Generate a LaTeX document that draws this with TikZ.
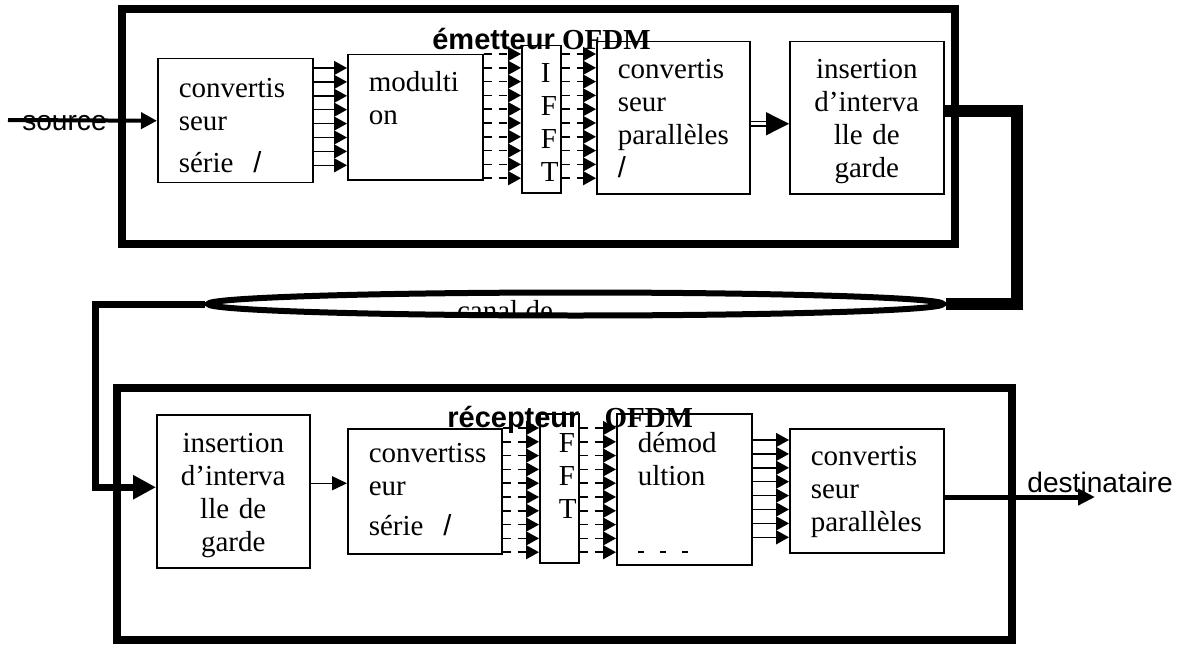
\documentclass[tikz,border=0pt]{standalone}
\usepackage{fontspec}
\setmainfont{Liberation Serif}
\setsansfont{Liberation Sans}
\usetikzlibrary{arrows.meta,shapes.geometric}
\newcommand{\boxfont}{\fontsize{16.5}{18.8}\selectfont}
\newcommand{\lblfont}{\sffamily\fontsize{16}{19}\selectfont}
\newcommand{\ttlfont}{\bfseries\fontsize{16.5}{19}\selectfont}

\begin{document}
\begin{tikzpicture}[
  outerbox/.style={draw, line width=0.16cm},
  blk/.style={draw, line width=0.03cm, anchor=north west, inner xsep=0.42cm, inner ysep=0pt, align=left, font=\boxfont, execute at begin node={\hyphenpenalty=10000\exhyphenpenalty=10000}},
  busline/.style={line width=0.03cm, -{Triangle[length=0.26cm,width=0.28cm]}},
  busdash/.style={busline, dash pattern=on 0.16cm off 0.14cm},
  dbl/.style={double, double distance=0.07cm, line width=0.025cm, -{Triangle[length=0.46cm,width=0.46cm]}},
  feed/.style={line width=0.08cm, -{Triangle[length=0.32cm,width=0.32cm]}},
  chan/.style={line width=0.24cm},
  inarrow/.style={line width=0.14cm, -{Triangle[length=0.46cm,width=0.46cm]}},
  outarrow/.style={line width=0.1cm, -{Triangle[length=0.34cm,width=0.32cm]}},
  thinarrow/.style={line width=0.03cm, -{Triangle[length=0.3cm,width=0.28cm]}}]
\useasboundingbox (0,0) rectangle (23.74,-12.88);

% titles sit under the box outlines
\node[anchor=base west, inner sep=0pt] (tx) at (8.64,-1.0) {\ttlfont{\sffamily émetteur} OFDM};
\node[anchor=base west, inner sep=0pt] (rx) at (8.94,-8.54) {\ttlfont{\sffamily récepteur}\hspace{0.5cm}OFDM};

\draw[outerbox] (2.44,-0.18) rectangle (19.10,-4.88);
\draw[outerbox] (2.34,-7.76) rectangle (20.24,-12.80);

% emitter chain
\node[blk, text width=2.26cm, text height=0.78cm, text depth=1.70cm] (b1) at (3.14,-1.16) {convertis\\seur\\[0.18cm]série\hspace{0.4cm}{\sffamily /}};
\node[blk, text width=1.86cm, text height=0.74cm, text depth=1.76cm] (b2) at (6.94,-1.08) {modulti\\on};
\node[blk, inner xsep=0.38cm, text width=0.02cm, text height=0.74cm, text depth=2.20cm] (ifft) at (10.42,-0.90) {I\\F\\F\\T};
\node[blk, text width=2.22cm, text height=0.74cm, text depth=2.30cm] (b3) at (11.92,-0.82) {convertis\\seur\\parallèles\\{\sffamily /}};
\node[blk, align=center, text width=2.24cm, text height=0.74cm, text depth=2.30cm] (b4) at (15.78,-0.82) {insertion\\d’interva\\lle de\\garde};

% receiver chain
\node[blk, align=center, text width=2.22cm, text height=0.76cm, text depth=2.30cm] (b5) at (3.12,-8.28) {insertion\\d’interva\\lle de\\garde};
\node[blk, text width=2.24cm, text height=0.68cm, text depth=1.82cm] (b6) at (6.94,-8.56) {convertiss\\eur\\[0.14cm]série\hspace{0.4cm}{\sffamily /}};
\node[blk, inner xsep=0.38cm, text width=0.02cm, text height=0.78cm, text depth=2.20cm] (fft) at (10.78,-8.26) {F\\F\\T};
\node[blk, text width=1.86cm, text height=0.78cm, text depth=2.24cm] (b7) at (12.32,-8.26) {démod\\ultion};
\node[blk, text width=2.24cm, text height=0.74cm, text depth=1.74cm] (b8) at (15.78,-8.56) {convertis\\seur\\parallèles};

\node[draw, ellipse, line width=0.12cm, minimum width=14.7cm, minimum height=0.46cm, inner sep=0pt,
  path picture={\node[anchor=base, font=\boxfont] (canaltxt) at ([xshift=-1.41cm,yshift=-0.32cm]path picture bounding box.center) {canal de};}] (canal) at (11.51,-6.08) {};

\node[anchor=base, font=\lblfont, inner sep=0pt] (src) at (1.29,-2.62) {source};
\node[anchor=base west, font=\lblfont, inner sep=0pt] (dest) at (20.54,-9.84) {destinataire};
\coordinate (srcin) at (0.16,-2.40);
\coordinate (dst) at (21.9,-9.94);

\foreach \k [evaluate=\k as \y using -1.36-0.278*\k] in {0,...,7}
  \draw[busline] (b1.east |- 0,\y) -- (b2.west |- 0,\y);
\foreach \k [evaluate=\k as \y using -1.08-0.276*\k] in {0,...,9}{
  \draw[busdash] (b2.east |- 0,\y) -- (ifft.west |- 0,\y);
  \draw[busdash] (ifft.east |- 0,\y) -- (b3.west |- 0,\y);}
\foreach \k [evaluate=\k as \y using -8.56-0.276*\k] in {0,...,9}{
  \draw[busdash] (b6.east |- 0,\y) -- (fft.west |- 0,\y);
  \draw[busdash] (fft.east |- 0,\y) -- (b7.west |- 0,\y);}
\foreach \k [evaluate=\k as \y using -8.80-0.278*\k] in {0,...,7}
  \draw[busline] (b7.east |- 0,\y) -- (b8.west |- 0,\y);
\draw[line width=0.03cm, dash pattern=on 0.12cm off 0.32cm] ([xshift=0.44cm]b7.west |- 0,-11.044) -- ++(1.06,0);

\draw[feed] (srcin) -- (b1.west);
\draw[dbl] ([yshift=-0.12cm]b3.east) -- ([yshift=-0.12cm]b4.west);
\draw[chan] ([yshift=0.14cm]b4.east) -- ++(1.44,0) |- (canal.east);
\draw[inarrow] (canal.west) -- ++(-2.2,0) |- ([yshift=0.08cm]b5.west);
\draw[thinarrow] ([yshift=0.16cm]b5.east) -- ([yshift=0.16cm]b6.west);
\draw[outarrow] (b8.east |- dst) -- (dst);
\end{tikzpicture}
\end{document}
